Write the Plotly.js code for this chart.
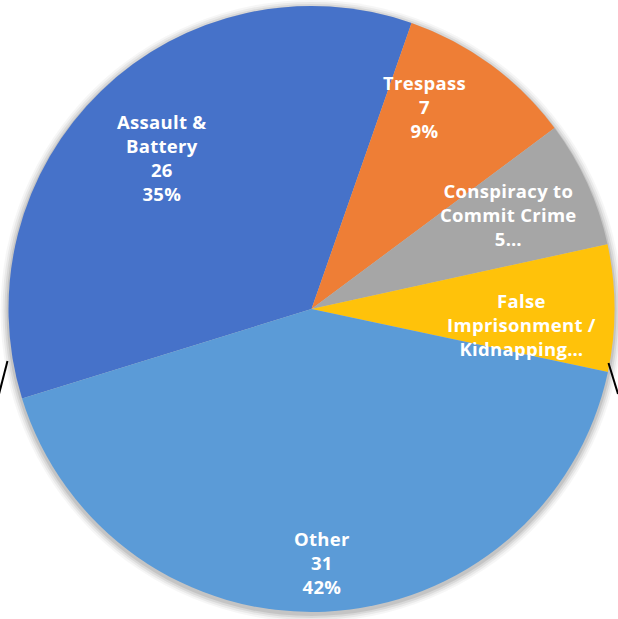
<!DOCTYPE html>
<html>
<head>
<meta charset="utf-8">
<script src="https://cdn.plot.ly/plotly-3.0.1.min.js"></script>
<style>html,body{margin:0;padding:0;background:#fff;}#chart{width:618px;height:619px;}
.annotation-text{letter-spacing:0.3px;}</style>
</head>
<body>
<div id="chart"></div>
<script>
// Data
const categories = ["Assault & Battery", "Trespass", "Conspiracy to Commit Crime", "False Imprisonment / Kidnapping", "Other"];
const values = [26, 7, 5, 5, 31];
const percents = [35, 9, 7, 7, 42];
// Labels as displayed in the chart (some truncated by the original)
const displayLabels = [
  "Assault &<br>Battery<br>26<br>35%",
  "Trespass<br>7<br>9%",
  "Conspiracy to<br>Commit Crime<br>5…",
  "False<br>Imprisonment /<br>Kidnapping…",
  "Other<br>31<br>42%"
];
const colors = ["#4672C9", "#EE7E36", "#A6A6A6", "#FFC20A", "#5B9BD7"];

const W = 618, H = 619;
const cx = 311.5, cy = 309, R = 303;
const px = x => x / W;
const py = y => 1 - y / H;

// label anchor positions (pixels)
const labelPos = [[162, 157], [424, 106], [508, 215], [521, 324], [322, 562]];

const annotations = displayLabels.map((t, i) => ({
  x: px(labelPos[i][0]), y: py(labelPos[i][1]), xref: 'paper', yref: 'paper',
  text: t, showarrow: false, xanchor: 'center', yanchor: 'middle', align: 'center',
  font: {family: '"Open Sans", sans-serif', size: 18.5, color: '#ffffff', weight: 'bold'}
}));

const shapes = [];
// soft shadow
[[8, 0.035], [6, 0.05], [4, 0.07], [2, 0.09]].forEach(([d, a]) => {
  shapes.push({type: 'circle', xref: 'paper', yref: 'paper', layer: 'below',
    x0: px(cx - R - d), x1: px(cx + R + d), y0: py(cy + 2 + R + d), y1: py(cy + 2 - R - d),
    fillcolor: 'rgba(0,0,0,' + a + ')', line: {width: 0}});
});
// partial leader lines at edges
shapes.push({type: 'line', xref: 'paper', yref: 'paper', x0: px(7.5), y0: py(361), x1: px(-1), y1: py(394), line: {color: '#000', width: 2}});
shapes.push({type: 'line', xref: 'paper', yref: 'paper', x0: px(608.5), y0: py(363), x1: px(618), y1: py(394), line: {color: '#000', width: 2}});

const trace = {
  type: 'pie',
  labels: categories,
  values: values,
  sort: false,
  direction: 'clockwise',
  rotation: -107.2,
  marker: {colors: colors, line: {width: 0}},
  textinfo: 'none',
  hoverinfo: 'label+value+percent',
  showlegend: false,
  domain: {x: [px(cx - R), px(cx + R)], y: [py(cy + R), py(cy - R)]}
};

Plotly.newPlot('chart', [trace], {
  width: W, height: H,
  margin: {l: 0, r: 0, t: 0, b: 0},
  paper_bgcolor: '#ffffff',
  showlegend: false,
  annotations: annotations,
  shapes: shapes
}, {displayModeBar: false, staticPlot: true});
</script>
</body>
</html>
